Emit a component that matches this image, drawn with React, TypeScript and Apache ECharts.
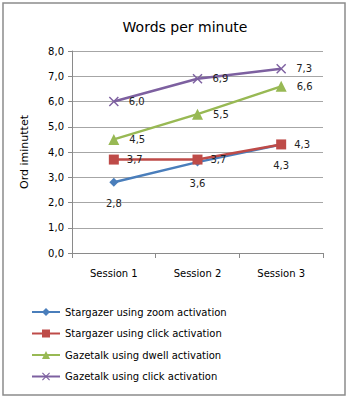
import React, { useEffect, useRef } from "react";
import * as echarts from "echarts";

const categories = ["Session 1", "Session 2", "Session 3"];
const seriesNames = [
  "Stargazer using zoom activation",
  "Stargazer using click activation",
  "Gazetalk using dwell activation",
  "Gazetalk using click activation",
];
const zoomValues = [2.8, 3.6, 4.3];
const clickValues = [3.7, 3.7, 4.3];
const dwellValues = [4.5, 5.5, 6.6];
const gazeClickValues = [6.0, 6.9, 7.3];
const yTicks = [0, 1, 2, 3, 4, 5, 6, 7, 8];

const FONT = "DejaVu Sans, Verdana, sans-serif";
const xPath = "path://M0,1L1,0L5,4L9,0L10,1L6,5L10,9L9,10L5,6L1,10L0,9L4,5Z";

const fmt = (v: number) => v.toFixed(1).replace(".", ",");

export default function App() {
  const ref = useRef<HTMLDivElement>(null);
  useEffect(() => {
    if (!ref.current) return;
    const chart = echarts.init(ref.current, null, { renderer: "svg" });
    const mk = (
      name: string,
      data: number[],
      color: string,
      symbol: string,
      symbolSize: number,
      labelPos: any,
      labelDist: number
    ) => ({
      name,
      type: "line",
      data,
      symbol,
      symbolSize,
      lineStyle: { color, width: 2.5 },
      itemStyle: { color },
      label: {
        show: true,
        position: labelPos,
        distance: labelDist,
        formatter: (p: any) => fmt(p.value),
        fontFamily: FONT,
        fontSize: 10,
        color: "#222",
      },
    });
    chart.setOption({
      animation: false,
      backgroundColor: "#fff",
      title: {
        text: "Words per minute",
        left: 180,
        textAlign: "center",
        top: 15,
        textStyle: { fontFamily: FONT, fontSize: 14, fontWeight: "normal", color: "#000" },
      },
      graphic: [
        {
          type: "rect",
          shape: { x: 3, y: 3, width: 342, height: 392 },
          style: { fill: "none", stroke: "#8c8c8c", lineWidth: 1.5 },
          silent: true,
        },
      ],
      grid: { left: 72, right: 31, top: 51, bottom: 147 },
      legend: {
        orient: "vertical",
        left: 26,
        top: 302,
        itemWidth: 28,
        itemHeight: 10,
        itemGap: 11.5,
        data: seriesNames,
        textStyle: { fontFamily: FONT, fontSize: 10, color: "#000" },
      },
      xAxis: {
        type: "category",
        data: categories,
        boundaryGap: true,
        axisLine: { lineStyle: { color: "#8a8a8a" } },
        axisTick: { show: true, length: 5, lineStyle: { color: "#8a8a8a" } },
        axisLabel: { fontFamily: FONT, fontSize: 10, color: "#000", margin: 15 },
      },
      yAxis: {
        type: "value",
        min: yTicks[0],
        max: yTicks[yTicks.length - 1],
        interval: 1,
        name: "Ord iminuttet",
        nameLocation: "middle",
        nameGap: 42,
        nameTextStyle: { fontFamily: FONT, fontSize: 11, color: "#000" },
        axisLine: { show: true, lineStyle: { color: "#8a8a8a" } },
        axisTick: { show: true, length: 4, lineStyle: { color: "#8a8a8a" } },
        axisLabel: { fontFamily: FONT, fontSize: 10, color: "#000", margin: 8, formatter: (v: number) => fmt(v) },
        splitLine: { lineStyle: { color: "#a6a6a6" } },
      },
      series: [
        mk(seriesNames[0], zoomValues, "#4a7ebb", "diamond", 9, "bottom", 12),
        mk(seriesNames[1], clickValues, "#be4b48", "rect", 10, "right", 8),
        mk(seriesNames[2], dwellValues, "#98b954", "triangle", 11, "right", 10),
        mk(seriesNames[3], gazeClickValues, "#7d60a0", xPath, 10, "right", 10),
      ],
    });
    return () => chart.dispose();
  }, []);
  return (
    <div
      ref={ref}
      style={{ position: "fixed", left: 0, top: 0, width: 354, height: 400 }}
    />
  );
}
